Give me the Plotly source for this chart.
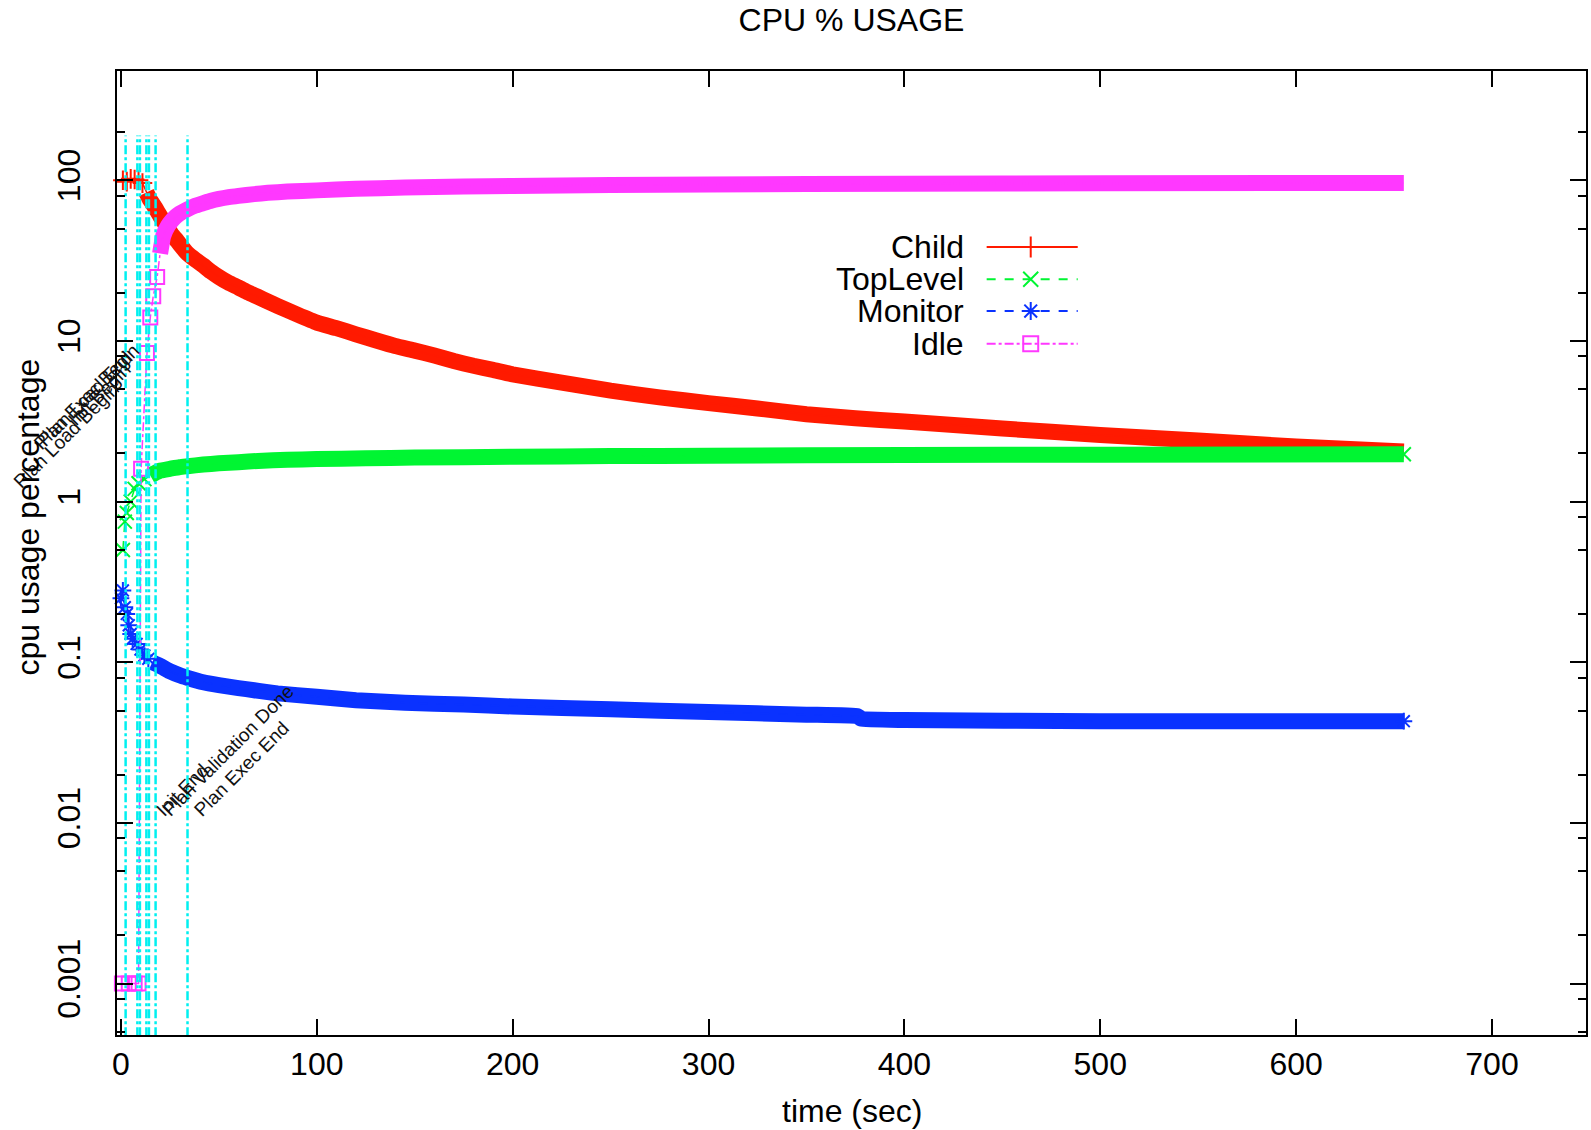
import math
import plotly.graph_objects as go

# ---- CPU usage samples: time (sec) and percentage per process ----
child_t = [1, 3, 5, 7, 9, 11, 13, 15, 17, 20, 22, 24, 26, 28, 30, 34, 38, 42, 46, 50,
           55, 60, 65, 70, 75, 80, 90, 100, 110, 120, 130, 140, 150, 160, 170, 180,
           190, 200, 225, 250, 275, 300, 325, 350, 375, 400, 450, 500, 550, 600, 655]
child_v = [100, 98, 102, 101, 100, 96, 84, 75, 69, 60, 55, 50, 46, 43, 40, 35, 32,
           29.5, 27, 25, 23, 21.5, 20, 18.8, 17.6, 16.5, 14.6, 13, 12, 11, 10.1, 9.3,
           8.7, 8.1, 7.5, 7.0, 6.6, 6.2, 5.5, 4.9, 4.45, 4.1, 3.8, 3.5, 3.3, 3.15,
           2.85, 2.6, 2.4, 2.2, 2.05]

toplevel_t = [1, 2, 3, 5, 7, 9, 12, 15, 18, 20, 25, 30, 34, 42, 50, 60, 70, 85, 100,
              125, 150, 200, 250, 300, 400, 500, 655]
toplevel_v = [0.5, 0.75, 0.85, 1.0, 1.2, 1.3, 1.38, 1.45, 1.52, 1.56, 1.6, 1.64, 1.66,
              1.7, 1.73, 1.76, 1.79, 1.82, 1.84, 1.86, 1.88, 1.9, 1.92, 1.93, 1.95,
              1.96, 1.97]

monitor_t = [0, 1, 2, 3, 4, 5, 6, 8, 10, 12, 14, 16, 20, 25, 30, 34, 42, 50, 60, 68,
             80, 100, 120, 145, 175, 200, 250, 300, 350, 376, 378, 400, 500, 655]
monitor_v = [0.25, 0.28, 0.22, 0.2, 0.17, 0.15, 0.14, 0.13, 0.12, 0.11, 0.105, 0.1,
             0.095, 0.088, 0.083, 0.08, 0.075, 0.072, 0.069, 0.067, 0.064, 0.061,
             0.058, 0.056, 0.0545, 0.053, 0.051, 0.049, 0.0472, 0.0462, 0.0445,
             0.0437, 0.043, 0.043]

idle_t = [-3, 0.5, 4, 7, 9, 10.3, 13.3, 15, 16.5, 18.5, 20, 21.6, 24, 26, 28, 30, 34,
          38, 42, 46, 50, 55, 60, 68, 75, 85, 100, 120, 145, 175, 200, 250, 300, 400,
          500, 655]
idle_v = [0.001, 0.001, 0.001, 0.001, 0.001, 1.6, 8.4, 14, 19, 25, 35, 45, 52, 56,
          59.5, 62, 66, 69.5, 72, 74.5, 76.5, 78.5, 80, 82, 83.5, 85, 86.5, 88.5, 90,
          91.3, 92, 93.3, 94.2, 95.2, 95.7, 96.2]

# execution events (sec) and their labels
event_t = [2.4, 8.4, 9.7, 13.0, 14.3, 17.7, 34.0]
event_label = ["Plan Load Begin", "Init Begin", "Plan Load End", "Plan Exec Begin",
               "Init End", "Plan Validation Done", "Plan Exec End"]
event_label_y = [6.0, 8.0, 9.5, 10.5, 0.01, 0.01, 0.01]
event_label_side = ["top", "top", "top", "top", "bottom", "bottom", "bottom"]

y_tick_vals = [0.001, 0.01, 0.1, 1, 10, 100]
y_tick_text = ["0.001", "0.01", "0.1", "1", "10", "100"]
x_tick_vals = [0, 100, 200, 300, 400, 500, 600, 700]

FONT = "Liberation Sans, Arial, sans-serif"
FS = 32
CYAN = "#00F0F0"

series = [
    # name, t, v, colour, symbol, dash, first time of the dense band, end point shown
    ("Child", child_t, child_v, "#FF1A00", "cross-thin-open", "solid", 12, False),
    ("TopLevel", toplevel_t, toplevel_v, "#00F532", "x-thin-open", "dash", 15, True),
    ("Monitor", monitor_t, monitor_v, "#0A32FF", "asterisk-open", "dash", 16, True),
    ("Idle", idle_t, idle_v, "#FF38FF", "square-open", "dashdot", 20, False),
]

fig = go.Figure()

for name, t, v, col, sym, dash, band_from, show_end in series:
    # densely sampled part renders as a solid band of overlapping points
    bt = [a for a in t if a >= band_from]
    bv = [b for a, b in zip(t, v) if a >= band_from]
    fig.add_trace(go.Scatter(x=bt, y=bv, mode="lines",
                             line=dict(color=col, width=16, shape="spline",
                                       smoothing=0.4),
                             hoverinfo="skip", showlegend=False))
    # connecting line through every sample
    fig.add_trace(go.Scatter(x=t, y=v, mode="lines", name=name,
                             line=dict(color=col, width=1.5, dash=dash),
                             hoverinfo="skip", showlegend=False))
    # individual points where they are sparse (and the final sample)
    pt = [a for a in t if a < band_from]
    pv = [b for a, b in zip(t, v) if a < band_from]
    if show_end:
        pt, pv = pt + [t[-1]], pv + [v[-1]]
    fig.add_trace(go.Scatter(x=pt, y=pv, mode="markers", name=name,
                             marker=dict(symbol=sym, size=14, color=col,
                                         line=dict(color=col, width=2)),
                             cliponaxis=False, showlegend=False))

# event markers: vertical dash-dot lines
for et in event_t:
    fig.add_trace(go.Scatter(x=[et, et], y=[1e-4, 190], mode="lines",
                             line=dict(color=CYAN, width=2.5, dash="dashdot"),
                             hoverinfo="skip", showlegend=False))

annotations = []
for et, txt, ly, side in zip(event_t, event_label, event_label_y, event_label_side):
    if side == "top":
        annotations.append(dict(x=et, y=math.log10(ly), xref="x", yref="y",
                                text=txt, textangle=-45, showarrow=False,
                                xanchor="right", yanchor="top",
                                font=dict(size=19, color="#111")))
    else:
        annotations.append(dict(x=et, y=math.log10(ly), xref="x", yref="y",
                                text=txt, textangle=-45, showarrow=False,
                                xanchor="left", yanchor="bottom",
                                font=dict(size=19, color="#111")))

# key: text on the left, line sample with point on the right
key_y = [0.8174, 0.784, 0.751, 0.717]
for (name, t, v, col, sym, dash, _, _), ky in zip(series, key_y):
    fig.add_trace(go.Scatter(x=[0.592, 0.654], y=[ky, ky], mode="lines",
                             line=dict(color=col, width=2, dash=dash),
                             xaxis="x2", yaxis="y2", hoverinfo="skip",
                             showlegend=False))
    fig.add_trace(go.Scatter(x=[0.622], y=[ky], mode="markers",
                             marker=dict(symbol=sym, size=15, color=col,
                                         line=dict(color=col, width=2)),
                             xaxis="x2", yaxis="y2", hoverinfo="skip",
                             showlegend=False))
    annotations.append(dict(x=0.578, y=ky, xref="paper", yref="paper", text=name,
                            showarrow=False, xanchor="right", yanchor="middle",
                            font=dict(size=FS, color="black")))

annotations.append(dict(x=0.5, y=-0.079, xref="paper", yref="paper",
                        text="time (sec)", showarrow=False, xanchor="center",
                        yanchor="middle", font=dict(size=FS, color="black")))
annotations.append(dict(x=-0.0605, y=0.537, xref="paper", yref="paper",
                        text="cpu usage percentage", showarrow=False, textangle=-90,
                        xanchor="center", yanchor="middle",
                        font=dict(size=FS, color="black")))

minor_vals = []
for e in range(-4, 3):
    for m in (2, 5, 8):
        minor_vals.append(m * 10 ** e)

axis_common = dict(showline=True, linecolor="black", linewidth=2, mirror="allticks",
                   ticks="inside", ticklen=16, tickwidth=2, tickcolor="black",
                   showgrid=False, zeroline=False,
                   tickfont=dict(size=FS, color="black", family=FONT))

fig.update_layout(
    width=1591, height=1130,
    margin=dict(l=117, r=3, t=71, b=95),
    paper_bgcolor="white", plot_bgcolor="white",
    font=dict(family=FONT, size=FS, color="black"),
    showlegend=False,
    title=dict(text="CPU % USAGE", x=0.5, xref="paper", xanchor="center",
               y=1 - 20 / 1130, yref="container", yanchor="middle",
               font=dict(size=FS, color="black", family=FONT)),
    xaxis=dict(range=[-2, 748], tickvals=x_tick_vals, **axis_common),
    yaxis=dict(type="log", range=[-3.32, 2.68], tickvals=y_tick_vals,
               ticktext=y_tick_text, tickangle=-90, ticklabelstandoff=22,
               minor=dict(tickvals=minor_vals, ticks="inside", ticklen=8,
                          tickwidth=2, tickcolor="black", showgrid=False),
               **axis_common),
    xaxis2=dict(overlaying="x", range=[0, 1], visible=False),
    yaxis2=dict(overlaying="y", range=[0, 1], visible=False),
    annotations=annotations,
)

fig.write_html("out.html")
